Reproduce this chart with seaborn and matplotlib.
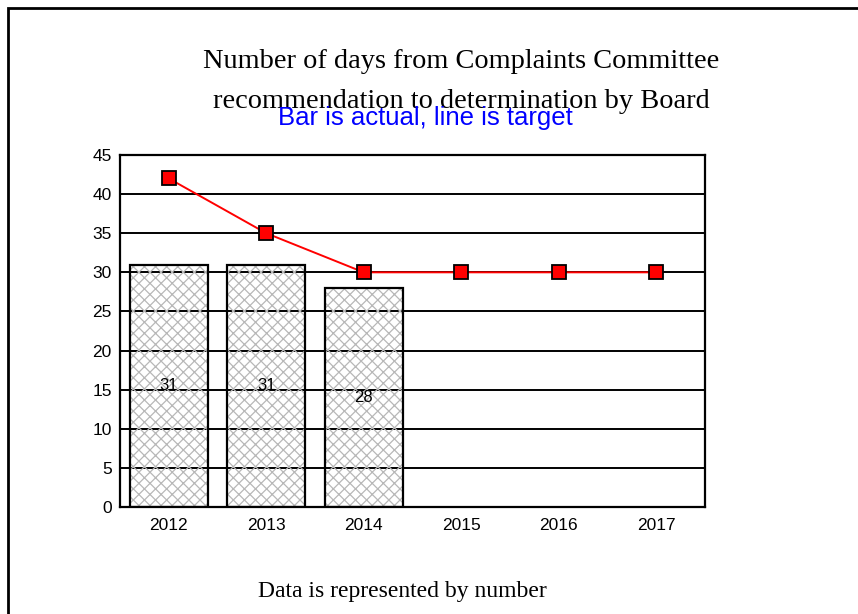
import matplotlib.pyplot as plt
import matplotlib.patches as mpatches
import seaborn as sns

years = ["2012", "2013", "2014", "2015", "2016", "2017"]
bar_years = ["2012", "2013", "2014"]
actual = [31, 31, 28]
target = [42, 35, 30, 30, 30, 30]

sns.set_theme(style="white")
plt.rcParams["font.family"] = ["Liberation Sans", "DejaVu Sans"]
plt.rcParams["hatch.linewidth"] = 0.9

fig = plt.figure(figsize=(8.58, 6.14), dpi=100)
ax = fig.add_axes([120 / 858, 1 - 507 / 614, 585 / 858, 352 / 614])

# white background of bars, below the grid
sns.barplot(x=bar_years, y=actual, order=years, color="white", linewidth=0,
            width=0.8, saturation=1, ax=ax, zorder=1)
# gray hatch drawn over the grid lines
sns.barplot(x=bar_years, y=actual, order=years, fill=False, edgecolor="#b8b8b8",
            hatch="xxx", linewidth=0, width=0.8, ax=ax, zorder=2.5)
# black outline
sns.barplot(x=bar_years, y=actual, order=years, fill=False, edgecolor="black",
            linewidth=1.6, width=0.8, ax=ax, zorder=3)

for i, v in enumerate(actual):
    ax.text(i, v / 2, str(v), ha="center", va="center", fontsize=12, color="black", zorder=4)

sns.pointplot(x=years, y=target, order=years, color="red", markers="s", markersize=10.5,
              markeredgecolor="black", markeredgewidth=1.3, linewidth=1.4, ax=ax, zorder=5)

for yv in range(5, 45, 5):
    ax.axhline(yv, color="black", linewidth=1.4, zorder=2)

ax.set_ylim(0, 45)
ax.set_xlim(-0.5, 5.5)
ax.set_yticks(range(0, 50, 5))
ax.tick_params(axis="both", length=0, labelsize=12.5, colors="black")
ax.tick_params(axis="x", pad=8)
ax.tick_params(axis="y", pad=6)
for s in ax.spines.values():
    s.set_color("black")
    s.set_linewidth(1.6)
ax.set_xlabel("")
ax.set_ylabel("")

fig.text(461 / 858, 1 - 62 / 614, "Number of days from Complaints Committee", ha="center", va="center",
         fontsize=20.4, family="Liberation Serif", color="black")
fig.text(461 / 858, 1 - 102 / 614, "recommendation to determination by Board", ha="center", va="center",
         fontsize=20.4, family="Liberation Serif", color="black")
fig.text(425 / 858, 1 - 118 / 614, "Bar is actual, line is target", ha="center", va="center",
         fontsize=18.5, color="blue")
fig.text(402 / 858, 1 - 591 / 614, "Data is represented by number", ha="center", va="center",
         fontsize=17, family="Liberation Serif", color="black")

fig.patches.append(mpatches.Rectangle((8 / 858, -0.05), 2, 1.05 - 8 / 614, transform=fig.transFigure,
                                      fill=False, edgecolor="black", linewidth=2))

fig.savefig("out.png", dpi=100)
